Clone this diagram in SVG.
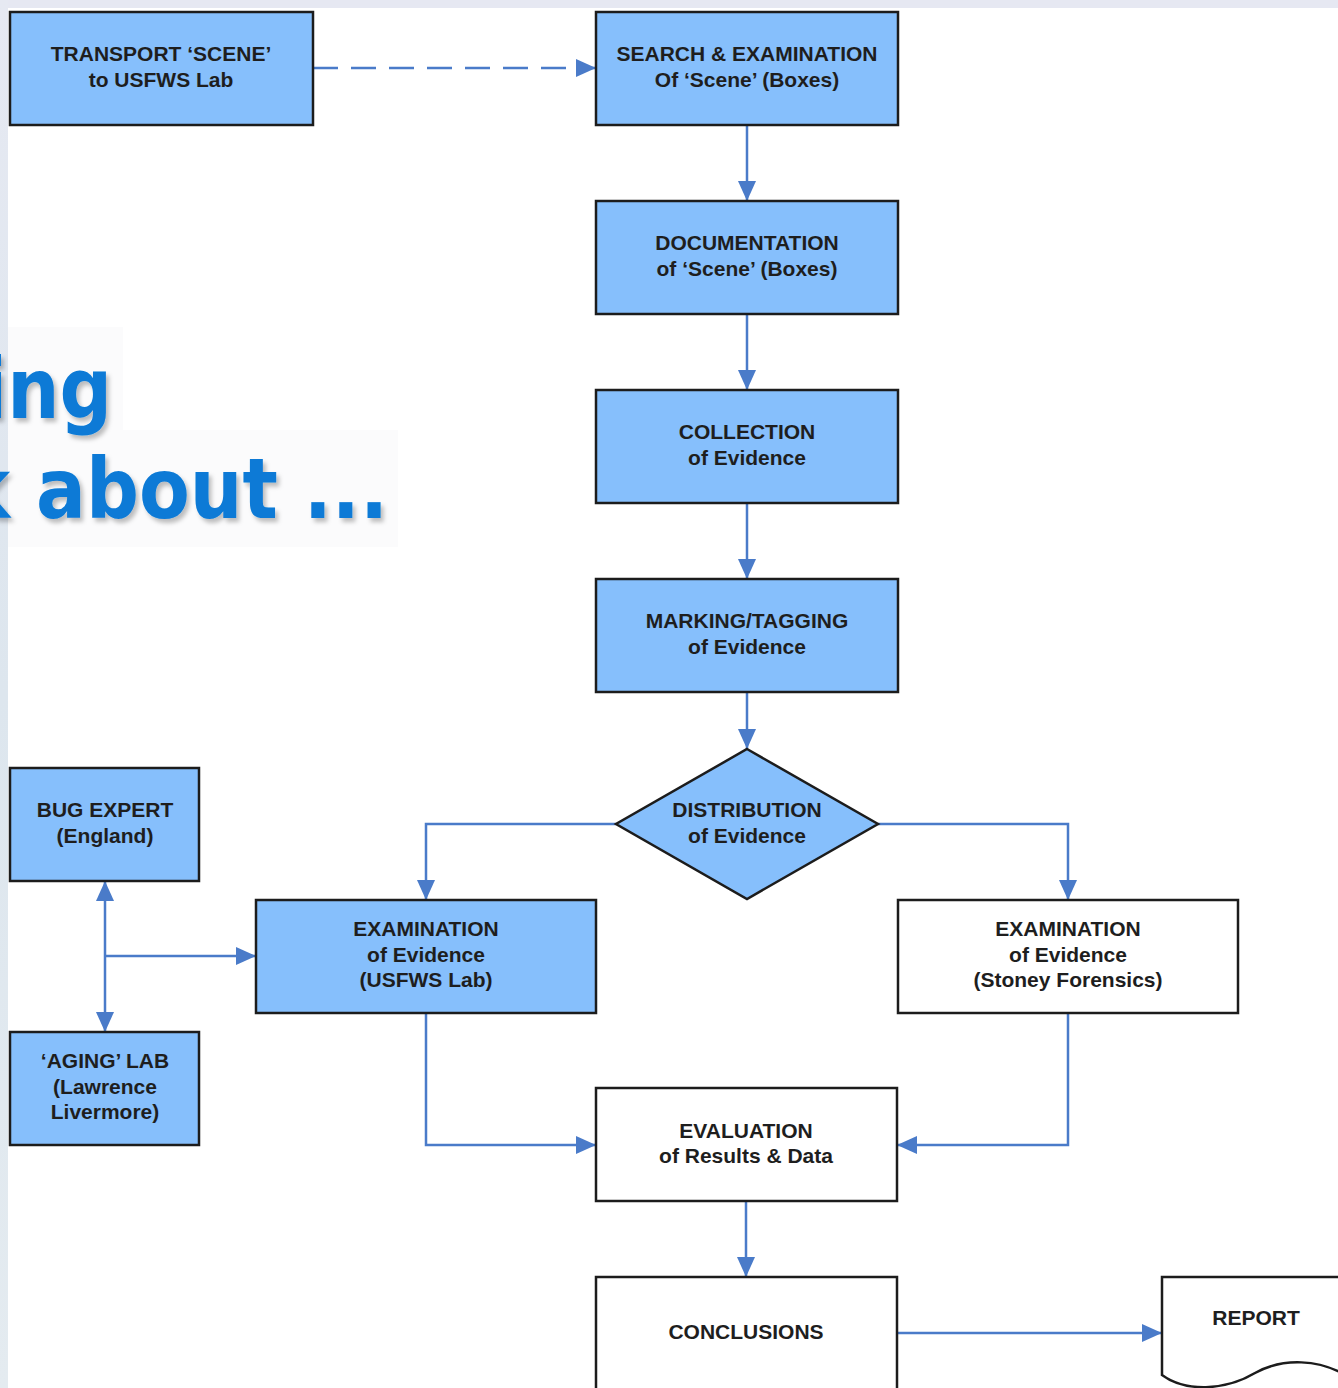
<svg xmlns="http://www.w3.org/2000/svg" width="1338" height="1388" viewBox="0 0 1338 1388">
<defs>
<style>
.box{fill:#86bffc;stroke:#1c1c1c;stroke-width:2.5}
.wbox{fill:#ffffff;stroke:#1c1c1c;stroke-width:2.5}
.t{font-family:"Liberation Sans",Arial,sans-serif;font-weight:bold;font-size:21px;fill:#1e1e1e;text-anchor:middle}
.c{fill:none;stroke:#4a7bc9;stroke-width:2.5}
.big{font-family:"DejaVu Sans",Verdana,sans-serif;font-weight:bold;font-size:84px;fill:#0a7ad6}
</style>
<marker id="ah" markerUnits="userSpaceOnUse" markerWidth="20" markerHeight="18" refX="20" refY="9" orient="auto-start-reverse" viewBox="0 0 20 18">
<path d="M0,0 L20,9 L0,18 z" fill="#4a7bc9"/>
</marker>
<filter id="sh" x="-10%" y="-10%" width="130%" height="130%">
<feDropShadow dx="3" dy="4" stdDeviation="2" flood-color="#000" flood-opacity="0.25"/>
</filter>
<linearGradient id="lg" x1="0" y1="0" x2="0" y2="1">
<stop offset="0" stop-color="#e6e9f2"/>
<stop offset="0.5" stop-color="#dde6ee"/>
<stop offset="1" stop-color="#e4ebf0"/>
</linearGradient>
</defs>
<rect x="0" y="0" width="1338" height="1388" fill="#ffffff"/>
<rect x="0" y="0" width="1338" height="8" fill="#e6e8f2"/>
<rect x="0" y="0" width="8" height="1388" fill="url(#lg)"/>
<rect x="8" y="327" width="115" height="103" fill="#fbfbfc"/>
<rect x="8" y="430" width="390" height="117" fill="#fbfbfc"/>
<g id="title" filter="url(#sh)">
<text class="big" x="-18" y="418" textLength="130" lengthAdjust="spacingAndGlyphs">ing</text>
<text class="big" x="-39" y="518" textLength="427" lengthAdjust="spacingAndGlyphs">k about ...</text>
</g>
<g id="connectors">
<line class="c" x1="313" y1="68" x2="596" y2="68" stroke-dasharray="25 13" marker-end="url(#ah)"/>
<line class="c" x1="747" y1="125" x2="747" y2="201" marker-end="url(#ah)"/>
<line class="c" x1="747" y1="314" x2="747" y2="390" marker-end="url(#ah)"/>
<line class="c" x1="747" y1="503" x2="747" y2="579" marker-end="url(#ah)"/>
<line class="c" x1="747" y1="692" x2="747" y2="749" marker-end="url(#ah)"/>
<polyline class="c" points="616,824 426,824 426,900" marker-end="url(#ah)"/>
<polyline class="c" points="878,824 1068,824 1068,900" marker-end="url(#ah)"/>
<polyline class="c" points="426,1013 426,1145 596,1145" marker-end="url(#ah)"/>
<polyline class="c" points="1068,1013 1068,1145 897,1145" marker-end="url(#ah)"/>
<line class="c" x1="746" y1="1201" x2="746" y2="1277" marker-end="url(#ah)"/>
<line class="c" x1="897" y1="1333" x2="1162" y2="1333" marker-end="url(#ah)"/>
<line class="c" x1="105" y1="881" x2="105" y2="1032" marker-start="url(#ah)" marker-end="url(#ah)"/>
<line class="c" x1="105" y1="956" x2="256" y2="956" marker-end="url(#ah)"/>
</g>
<g id="transport">
<rect class="box" x="10" y="12" width="303" height="113"/>
<text class="t" x="161" y="61">TRANSPORT ‘SCENE’</text>
<text class="t" x="161" y="87">to USFWS Lab</text>
</g>
<g id="search">
<rect class="box" x="596" y="12" width="302" height="113"/>
<text class="t" x="747" y="61">SEARCH &amp; EXAMINATION</text>
<text class="t" x="747" y="87">Of ‘Scene’ (Boxes)</text>
</g>
<g id="documentation">
<rect class="box" x="596" y="201" width="302" height="113"/>
<text class="t" x="747" y="250">DOCUMENTATION</text>
<text class="t" x="747" y="276">of ‘Scene’ (Boxes)</text>
</g>
<g id="collection">
<rect class="box" x="596" y="390" width="302" height="113"/>
<text class="t" x="747" y="439">COLLECTION</text>
<text class="t" x="747" y="465">of Evidence</text>
</g>
<g id="marking">
<rect class="box" x="596" y="579" width="302" height="113"/>
<text class="t" x="747" y="628">MARKING/TAGGING</text>
<text class="t" x="747" y="654">of Evidence</text>
</g>
<g id="distribution">
<polygon class="box" points="747,749 878,824 747,899 616,824"/>
<text class="t" x="747" y="817">DISTRIBUTION</text>
<text class="t" x="747" y="843">of Evidence</text>
</g>
<g id="bug-expert">
<rect class="box" x="10" y="768" width="189" height="113"/>
<text class="t" x="105" y="817">BUG EXPERT</text>
<text class="t" x="105" y="843">(England)</text>
</g>
<g id="exam-usfws">
<rect class="box" x="256" y="900" width="340" height="113"/>
<text class="t" x="426" y="936">EXAMINATION</text>
<text class="t" x="426" y="962">of Evidence</text>
<text class="t" x="426" y="987">(USFWS Lab)</text>
</g>
<g id="exam-stoney">
<rect class="wbox" x="898" y="900" width="340" height="113"/>
<text class="t" x="1068" y="936">EXAMINATION</text>
<text class="t" x="1068" y="962">of Evidence</text>
<text class="t" x="1068" y="987">(Stoney Forensics)</text>
</g>
<g id="aging-lab">
<rect class="box" x="10" y="1032" width="189" height="113"/>
<text class="t" x="105" y="1068">‘AGING’ LAB</text>
<text class="t" x="105" y="1094">(Lawrence</text>
<text class="t" x="105" y="1119">Livermore)</text>
</g>
<g id="evaluation">
<rect class="wbox" x="596" y="1088" width="301" height="113"/>
<text class="t" x="746" y="1138">EVALUATION</text>
<text class="t" x="746" y="1163">of Results &amp; Data</text>
</g>
<g id="conclusions">
<rect class="wbox" x="596" y="1277" width="301" height="130"/>
<text class="t" x="746" y="1339">CONCLUSIONS</text>
</g>
<g id="report">
<path class="wbox" d="M1162,1277 H1350 V1378 C1320,1358 1282,1358 1255,1373 C1225,1391 1185,1392 1162,1375 Z"/>
<text class="t" x="1256" y="1325">REPORT</text>
</g>
</svg>
